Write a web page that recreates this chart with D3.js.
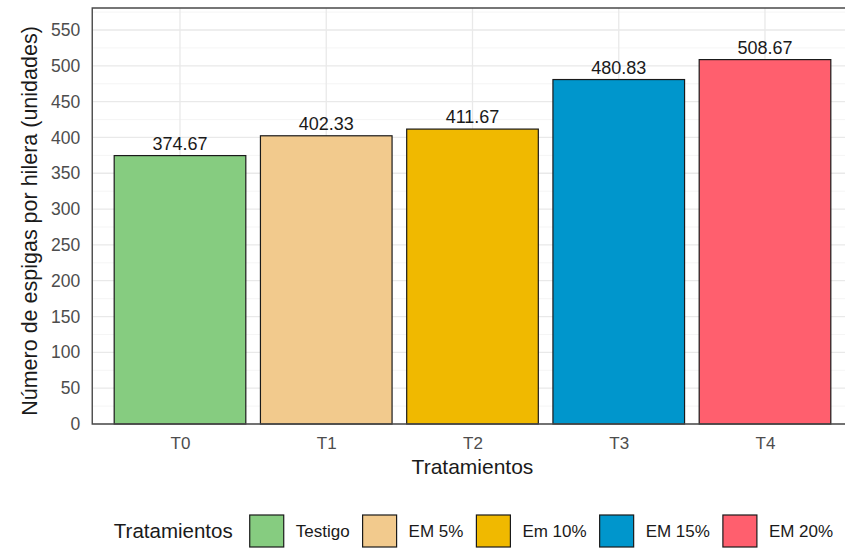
<!DOCTYPE html>
<html><head><meta charset="utf-8">
<script src="https://cdn.jsdelivr.net/npm/d3@7"></script>
<style>
html,body{margin:0;padding:0;background:#fff;}
svg{display:block;font-family:"Liberation Sans",Arial,Helvetica,sans-serif;}
</style></head>
<body>
<svg id="chart" width="845" height="549"></svg>
<script>
const categories = ["T0","T1","T2","T3","T4"];
const values = [374.67, 402.33, 411.67, 480.83, 508.67];
const legendLabels = ["Testigo","EM 5%","Em 10%","EM 15%","EM 20%"];
const colors = ["#86CC80","#F2CA8D","#F0B900","#0096CC","#FF5F6E"];
const yTicks = [0,50,100,150,200,250,300,350,400,450,500,550];
const yMinor = [25,75,125,175,225,275,325,375,425,475,525,575];

const W = 845, H = 549;
const m = {left:92.25, right:852.75, top:8, bottom:424};
const svg = d3.select("#chart");

const x = d3.scalePoint().domain(categories).range([m.left, m.right]).padding(0.6);
const step = x.step();
const barW = step * 0.9;
const y = d3.scaleLinear().domain([0, 580.7]).range([m.bottom, m.top]);

// grid
const g = svg.append("g");
g.selectAll(".minor").data(yMinor).enter().append("line")
  .attr("x1", m.left).attr("x2", W).attr("y1", d=>y(d)).attr("y2", d=>y(d))
  .attr("stroke", "#f2f2f2").attr("stroke-width", 0.8);
g.selectAll(".major").data(yTicks).enter().append("line")
  .attr("x1", m.left).attr("x2", W).attr("y1", d=>y(d)).attr("y2", d=>y(d))
  .attr("stroke", "#e9e9e9").attr("stroke-width", 1.3);
g.selectAll(".vmajor").data(categories).enter().append("line")
  .attr("x1", d=>x(d)).attr("x2", d=>x(d)).attr("y1", m.top).attr("y2", m.bottom)
  .attr("stroke", "#e9e9e9").attr("stroke-width", 1.3);

// bars
svg.selectAll(".bar").data(values).enter().append("rect")
  .attr("x", (d,i)=>x(categories[i]) - barW/2)
  .attr("y", d=>y(d))
  .attr("width", barW)
  .attr("height", d=>y(0)-y(d))
  .attr("fill", (d,i)=>colors[i])
  .attr("stroke", "#1a1a1a").attr("stroke-width", 1.2);

// bar labels
svg.selectAll(".lbl").data(values).enter().append("text")
  .attr("x", (d,i)=>x(categories[i]))
  .attr("y", d=>y(d) - 6)
  .attr("text-anchor","middle")
  .attr("font-size", 18)
  .attr("fill", "#1a1a1a")
  .text(d=>d3.format(".2f")(d));

// panel border
svg.append("path")
  .attr("d", `M${W+2},${m.top}H${m.left}V${m.bottom}H${W+2}`)
  .attr("fill","none").attr("stroke","#4a4a4a").attr("stroke-width",1.4);

// y axis ticks
const yAxis = d3.axisLeft(y).tickValues(yTicks).tickSize(0).tickPadding(12);
const ya = svg.append("g").attr("transform", `translate(${m.left},0)`).call(yAxis);
ya.select(".domain").remove();
ya.selectAll("text").attr("font-size", 17.5).attr("fill","#4d4d4d")
  .attr("font-family","Liberation Sans,Arial,sans-serif");

// x axis ticks
const xAxis = d3.axisBottom(x).tickSize(0).tickPadding(13);
const xa = svg.append("g").attr("transform", `translate(0,${m.bottom})`).call(xAxis);
xa.select(".domain").remove();
xa.selectAll("text").attr("font-size", 17).attr("fill","#4d4d4d")
  .attr("font-family","Liberation Sans,Arial,sans-serif");

// axis titles
svg.append("text").attr("x", (m.left+m.right)/2).attr("y", 474)
  .attr("text-anchor","middle").attr("font-size", 21).attr("fill","#1a1a1a")
  .text("Tratamientos");
svg.append("text")
  .attr("transform", `translate(37,${(m.top+m.bottom)/2 + 5}) rotate(-90)`)
  .attr("text-anchor","middle").attr("font-size", 21.5).attr("fill","#1a1a1a")
  .text("Número de espigas por hilera (unidades)");

// legend
const leg = svg.append("g");
const title = leg.append("text").attr("x",0).attr("y",538).attr("font-size",20.5)
  .attr("fill","#1a1a1a").text("Tratamientos");
let cx = title.node().getComputedTextLength() + 17;
legendLabels.forEach((lab,i)=>{
  leg.append("rect").attr("x",cx).attr("y",515).attr("width",34).attr("height",32)
    .attr("fill",colors[i]).attr("stroke","#1a1a1a").attr("stroke-width",1.2);
  cx += 34 + 12;
  const t = leg.append("text").attr("x",cx).attr("y",537).attr("font-size",17)
    .attr("fill","#1a1a1a").text(lab);
  cx += t.node().getComputedTextLength() + (i < legendLabels.length-1 ? 13 : 0);
});
leg.attr("transform", `translate(${473.5 - cx/2},0)`);
</script>
</body></html>
